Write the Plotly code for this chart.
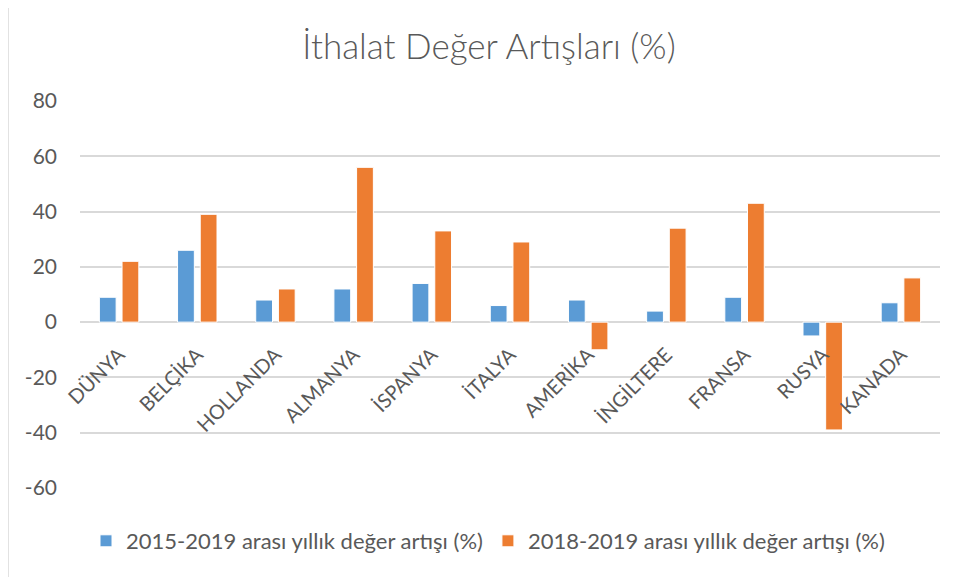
import plotly.graph_objects as go

countries = ["DÜNYA", "BELÇİKA", "HOLLANDA", "ALMANYA", "İSPANYA", "İTALYA",
             "AMERİKA", "İNGİLTERE", "FRANSA", "RUSYA", "KANADA"]
growth_2015_2019 = [9, 26, 8, 12, 14, 6, 8, 4, 9, -5, 7]
growth_2018_2019 = [22, 39, 12, 56, 33, 29, -10, 34, 43, -39, 16]
series_names = ["2015-2019 arası yıllık değer artışı (%)",
                "2018-2019 arası yıllık değer artışı (%)"]
y_ticks = [-60, -40, -20, 0, 20, 40, 60, 80]
y_labels = [str(v) for v in y_ticks]

# page has an 8px body margin, so the figure is drawn 8px smaller and
# all page positions below are shifted by OFF
OFF = 8
W, H = 957 - OFF, 577 - OFF
L, R, T, B = 80 - OFF, 957 - 940, 101 - OFF, 577 - 488
pw, ph = W - L - R, H - T - B


def px_x(px):
    return (px - OFF - L) / pw


def px_y(py):
    return (H - B - (py - OFF)) / ph


font = "Lato"
grey = "#595959"

fig = go.Figure()
fig.add_trace(go.Bar(x=countries, y=growth_2015_2019, name=series_names[0],
                     marker=dict(color="#5B9BD5", line=dict(color="#ffffff", width=1))))
fig.add_trace(go.Bar(x=countries, y=growth_2018_2019, name=series_names[1],
                     marker=dict(color="#ED7D31", line=dict(color="#ffffff", width=1))))

fig.update_layout(
    width=W, height=H,
    margin=dict(l=L, r=R, t=T, b=B),
    plot_bgcolor="white", paper_bgcolor="white",
    barmode="group", bargap=0.42, bargroupgap=0.26,
    font=dict(family=font, color=grey, size=20),
    title=dict(text="İthalat Değer Artışları (%)", x=(489 - OFF) / W, xanchor="center",
               y=1 - (47 - OFF) / H, yanchor="middle",
               font=dict(family=font, size=35, color=grey, weight=300)),
    legend=dict(orientation="h", x=px_x(488), xanchor="center",
                y=px_y(541), yanchor="middle", font=dict(size=22, color=grey),
                itemwidth=30, traceorder="normal"),
    xaxis=dict(anchor="free", position=60 / 140, tickangle=-45, showline=False,
               showgrid=False, ticks="outside", ticklen=12, tickcolor="rgba(0,0,0,0)",
               tickfont=dict(size=20, color=grey)),
    yaxis=dict(range=[-60, 80], tickvals=y_ticks, ticktext=y_labels,
               gridcolor="#d9d9d9", gridwidth=1.5,
               zeroline=False, showline=False, ticklabelstandoff=22,
               tickfont=dict(size=21, color=grey)),
)

# chart border
fig.add_shape(type="rect", xref="paper", yref="paper",
              x0=px_x(8), x1=px_x(957 + 20), y0=px_y(577 + 20), y1=px_y(3),
              line=dict(color="#d9d9d9", width=1.5), layer="below")

fig.write_html("out.html")
